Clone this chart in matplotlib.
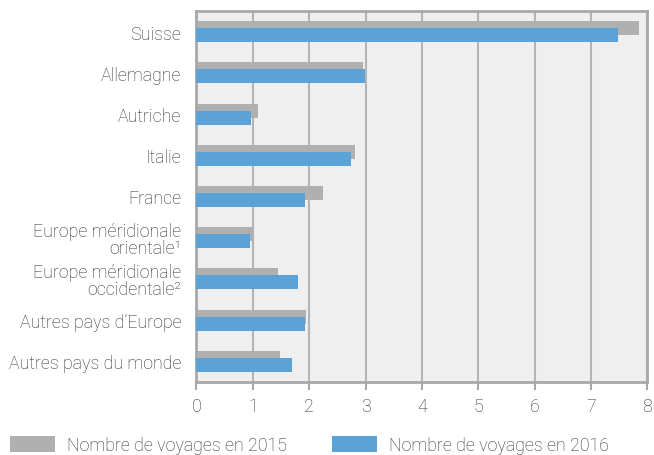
import numpy as np
import matplotlib
matplotlib.use("Agg")
import matplotlib.pyplot as plt
from matplotlib.patches import Patch

plt.rcParams['font.family'] = ['Roboto', 'DejaVu Sans']

categories = ["Suisse", "Allemagne", "Autriche", "Italie", "France",
              "Europe méridionale\norientale¹", "Europe méridionale\noccidentale²",
              "Autres pays d\u2019Europe", "Autres pays du monde"]
voyages_2015 = [7.85, 2.95, 1.10, 2.81, 2.24, 1.00, 1.45, 1.95, 1.48]
voyages_2016 = [7.48, 2.99, 0.97, 2.74, 1.93, 0.95, 1.80, 1.92, 1.69]
x_ticks = [0, 1, 2, 3, 4, 5, 6, 7, 8]

grey = "#b0b0b0"
blue = "#5ba3d6"
frame = "#a8a8a8"
text_col = "#2e2e2e"
fs = 12.8

fig = plt.figure(figsize=(6.54, 4.56), dpi=100)
ax = fig.add_axes([196.5 / 654, 1 - 383 / 456, (647.3 - 196.5) / 654, (383 - 12) / 456])
ax.set_facecolor("#efefef")

y = np.arange(len(categories))
h = 0.34
off = 0.085
ax.barh(y - off, voyages_2015, height=h, color=grey, zorder=2)
ax.barh(y + off, voyages_2016, height=h, color=blue, zorder=3)

ax.set_xlim(0, 8)
ax.set_ylim(len(categories) - 0.5, -0.5)
ax.set_xticks(x_ticks)
ax.set_yticks(y)
ax.set_yticklabels(categories, ha="right", linespacing=0.95)
ax.tick_params(axis="y", length=0, pad=11, labelsize=fs, labelcolor=text_col)
ax.tick_params(axis="x", length=6, width=1.5, color=frame, pad=5, labelsize=fs, labelcolor=text_col)
for lbl in ax.get_yticklabels() + ax.get_xticklabels():
    lbl.set_fontweight("light")

ax.grid(axis="x", color="#b4b4b4", linewidth=1.5, zorder=1)
for s in ax.spines.values():
    s.set_color(frame)
    s.set_linewidth(2)

handles = [Patch(facecolor=grey, label="Nombre de voyages en 2015"),
           Patch(facecolor=blue, label="Nombre de voyages en 2016")]
leg = fig.legend(handles=handles, loc="lower left", bbox_to_anchor=(10 / 654, 1 / 456),
                 ncol=2, frameon=False, handlelength=2.55, handleheight=1.05,
                 handletextpad=0.67, columnspacing=2.5, borderaxespad=0, borderpad=0,
                 prop={"weight": "light", "size": fs})
for t in leg.get_texts():
    t.set_color(text_col)

fig.savefig("out.png", dpi=100)
